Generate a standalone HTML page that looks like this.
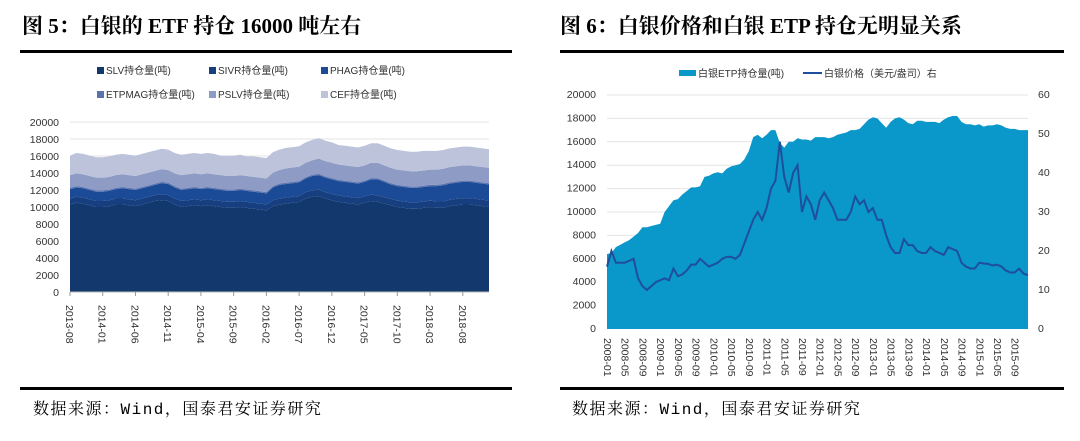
<!DOCTYPE html>
<html><head><meta charset="utf-8">
<style>
body{margin:0;background:#fff;width:1080px;height:441px;overflow:hidden;font-family:"Liberation Sans","Noto Sans CJK SC",sans-serif;}
svg{position:absolute;left:0;top:0;}
.tt{font-family:"Liberation Serif","Noto Serif CJK SC",serif;font-weight:bold;font-size:21px;fill:#000;}
.src{font-family:"Liberation Mono","Noto Serif CJK SC",serif;font-size:16px;letter-spacing:1.5px;fill:#000;}
.ax{font-size:10.5px;fill:#333;}
.lg{font-size:10px;fill:#333;}
</style></head><body>
<svg id="s" width="1080" height="441" xmlns="http://www.w3.org/2000/svg">
<text class="tt" x="22" y="33">图 5：白银的 ETF 持仓 16000 吨左右</text>
<rect x="20" y="50" width="492" height="3" fill="#000"/>
<rect x="20" y="387" width="492" height="3" fill="#000"/>
<text class="src" x="33" y="414">数据来源：Wind，国泰君安证券研究</text>
<text class="tt" x="560" y="33">图 6：白银价格和白银 ETP 持仓无明显关系</text>
<rect x="560" y="50" width="504" height="3" fill="#000"/>
<rect x="560" y="387" width="504" height="3" fill="#000"/>
<text class="src" x="572" y="414">数据来源：Wind，国泰君安证券研究</text>
<g id="left"></g>
<g id="right"></g>
</svg>
<script>
// ---- Left chart data (monthly, 2013-08 .. 2018-12) ----
const slv=[10300,10500,10400,10200,10000,
10000,10100,10300,10300,10200,10100,10300,10500,10700,10800,10700,10300,
10000,10100,10200,10100,10200,10100,10000,9900,9900,10000,9900,9800,
9700,9600,10100,10300,10400,10500,10600,11000,11200,11300,11000,10800,
10600,10500,10400,10300,10500,10700,10600,10400,10200,10000,9900,9800,
9800,9900,10000,9900,9900,10100,10200,10300,10300,10200,10100,10000];
const sivr=[700,700,700,700,700,700,700,700,700,700,700,700,700,700,700,700,700,700,700,700,700,700,700,700,700,700,700,700,700,700,700,700,700,700,700,700,750,750,750,750,750,750,750,750,750,750,750,750,750,750,750,750,750,750,750,750,750,750,750,750,750,750,750,750,750];
const phag=[1100,1100,1100,1100,1100,1100,1100,1100,1200,1200,1200,1200,1200,1200,1300,1300,1300,1300,1300,1300,1300,1300,1300,1300,1300,1300,1300,1300,1300,1300,1300,1500,1600,1600,1600,1600,1600,1700,1700,1700,1700,1700,1700,1700,1700,1700,1800,1900,1800,1700,1700,1700,1700,1700,1700,1700,1800,1900,1900,1900,1900,1900,1900,1900,1900];
const etpmag=[150,150,150,150,150,150,150,150,150,150,150,150,150,150,150,150,150,150,150,150,150,150,150,150,150,150,150,150,150,150,150,150,150,150,150,150,150,150,150,150,150,150,150,150,150,150,150,150,150,150,150,150,150,150,150,150,150,150,150,150,150,150,150,150,150];
const pslv=[1500,1500,1500,1500,1500,1500,1500,1500,1500,1500,1500,1500,1500,1500,1500,1500,1500,1600,1600,1600,1600,1600,1600,1600,1600,1600,1600,1600,1600,1600,1600,1600,1600,1700,1700,1700,1700,1700,1800,1800,1800,1800,1800,1800,1800,1800,1800,1800,1800,1800,1800,1800,1800,1800,1800,1800,1800,1800,1800,1800,1800,1800,1800,1800,1800];
const cef=[2300,2400,2400,2400,2400,2400,2400,2400,2400,2400,2400,2400,2400,2400,2400,2400,2400,2400,2400,2400,2400,2400,2400,2300,2400,2400,2400,2300,2400,2400,2400,2400,2400,2400,2400,2400,2400,2400,2400,2400,2400,2300,2300,2300,2300,2300,2300,2300,2300,2300,2300,2300,2300,2300,2300,2200,2200,2200,2200,2200,2200,2200,2200,2200,2200];
const leftSeries=["SLV持仓量(吨)","SIVR持仓量(吨)","PHAG持仓量(吨)","ETPMAG持仓量(吨)","PSLV持仓量(吨)","CEF持仓量(吨)"];
const leftTicksY=[0,2000,4000,6000,8000,10000,12000,14000,16000,18000,20000];
const leftTicksX=["2013-08","2014-01","2014-06","2014-11","2015-04","2015-09","2016-02","2016-07","2016-12","2017-05","2017-10","2018-03","2018-08"];

// ---- Right chart data (monthly, 2008-01 .. 2015-12) ----
const etp=[6400,6500,7000,7200,7400,7600,7900,8200,8700,8700,8800,8900,
9000,10000,10500,11000,11100,11500,11800,12100,12100,12200,13000,13100,
13300,13400,13300,13700,13900,14000,14100,14500,15200,16400,16600,16300,
16600,17000,17000,15900,15500,16000,16000,16300,16200,16200,16100,16400,
16400,16400,16300,16400,16600,16700,16800,17000,17000,17100,17500,17900,
18100,18000,17600,17200,17700,18000,18100,17900,17600,17500,17800,17800,
17700,17700,17700,17600,17900,18100,18200,18200,17700,17500,17500,17400,
17500,17300,17400,17400,17500,17400,17200,17100,17100,17000,17000,17000];
const price=[16,20,17,17,17,17.5,18,13,11,10,11,12,
12.5,13,12.5,15.5,13.5,14,15,16.5,16.5,18,17,16,
16.5,17,18,18.5,18.5,18,19,22,25,28,30,28,
31,36,38,48,39,35,40,42,30,34,32,28,
33,35,33,31,28,28,28,30,34,32,33,30,
31,28,28,24,21,19.5,19.5,23,21.5,21.5,20,19.5,
19.5,21,20,19.5,19,21,20.5,20,17,16,15.5,15.5,
17,16.8,16.7,16.3,16.5,16,15,14.5,14.5,15.5,14.2,13.8];
const rightTicksY=[0,2000,4000,6000,8000,10000,12000,14000,16000,18000,20000];
const rightTicksY2=[0,10,20,30,40,50,60];
const rightTicksX=["2008-01","2008-05","2008-09","2009-01","2009-05","2009-09","2010-01","2010-05","2010-09","2011-01","2011-05","2011-09","2012-01","2012-05","2012-09","2013-01","2013-05","2013-09","2014-01","2014-05","2014-09","2015-01","2015-05","2015-09"];

const NS="http://www.w3.org/2000/svg";
function mk(parent,tag,attrs){const e=document.createElementNS(NS,tag);for(const k in attrs)e.setAttribute(k,attrs[k]);parent.appendChild(e);return e;}

// ---- Left chart ----
(function(){
const g=document.getElementById('left');
const x0=70,x1=489,y0=292,y1=122;
const n=slv.length;
const X=i=>x0+(x1-x0)*i/(n-1);
const Y=v=>y0-(y0-y1)*v/20000;
leftTicksY.forEach(v=>{
  if(v>0){const l=mk(g,'line',{x1:x0,x2:x1,y1:Y(v),y2:Y(v),stroke:'#e4e4e4','stroke-width':1});
  
  }
  const t=mk(g,'text',{x:x0-11,y:Y(v)+4,'text-anchor':'end',class:'ax'});t.textContent=v;
  
  
});
const layers=[slv,sivr,phag,etpmag,pslv,cef];
const colors=['#13386e','#173f80','#1b4b97','#5a72ae','#8d9bc5','#bcc3da'];
const names=['area-slv','area-sivr','area-phag','area-etpmag','area-pslv','area-cef'];
let base=new Array(n).fill(0);
layers.forEach((arr,k)=>{
  const top=base.map((b,i)=>b+arr[i]);
  let d='M'+X(0)+','+Y(top[0]);
  for(let i=1;i<n;i++)d+='L'+X(i)+','+Y(top[i]);
  for(let i=n-1;i>=0;i--)d+='L'+X(i)+','+Y(base[i]);
  const p=mk(g,'path',{d:d+'Z',fill:colors[k]});
  
  
  base=top;
});
const ax=mk(g,'line',{x1:x0,x2:x1,y1:y0,y2:y0,stroke:'#bbb'});


leftTicksX.forEach((lab,j)=>{
  const x=X(j*5);
  const tk=mk(g,'line',{x1:x,x2:x,y1:y0,y2:y0+4,stroke:'#999'});
  
  
  const t=mk(g,'text',{x:x,y:y0+9,class:'ax',transform:`rotate(90 ${x-4} ${y0+9})`});t.textContent=lab;
  
  
});
const pos=[[97,74],[209,74],[321,74],[97,98],[209,98],[321,98]];
leftSeries.forEach((s,k)=>{
  const gg=mk(g,'g',{});
  
  
  mk(gg,'rect',{x:pos[k][0],y:pos[k][1]-7,width:7,height:7,fill:colors[k]});
  const t=mk(gg,'text',{x:pos[k][0]+9,y:pos[k][1],class:'lg'});t.textContent=s;
});
})();

// ---- Right chart ----
(function(){
const g=document.getElementById('right');
const x0=607,x1=1028,y0=329,y1=95;
const n=etp.length;
const X=i=>x0+(x1-x0)*i/(n-1);
const Y=v=>y0-(y0-y1)*v/20000;
const Y2=v=>y0-(y0-y1)*v/60;
rightTicksY.forEach(v=>{
  if(v>0){const l=mk(g,'line',{x1:x0,x2:x1,y1:Y(v),y2:Y(v),stroke:'#e4e4e4'});
  
  }
  const t=mk(g,'text',{x:x0-11,y:Y(v)+3,'text-anchor':'end',class:'ax','font-size':'9'});t.textContent=v;
  
  
});
rightTicksY2.forEach(v=>{
  const t=mk(g,'text',{x:1038,y:Y2(v)+3,class:'ax','font-size':'9'});t.textContent=v;
  
  
});
let d='M'+X(0)+','+Y(0);
for(let i=0;i<n;i++)d+='L'+X(i)+','+Y(etp[i]);
d+='L'+X(n-1)+','+Y(0)+'Z';
const a=mk(g,'path',{d:d,fill:'#0a97c9'});


let dl='';
for(let i=0;i<n;i++)dl+=(i?'L':'M')+X(i)+','+Y2(price[i]);
const ln=mk(g,'path',{d:dl,fill:'none',stroke:'#1f4e9c','stroke-width':2});


rightTicksX.forEach((lab,j)=>{
  const x=X(j*4);
  const t=mk(g,'text',{x:x,y:y0+6,class:'ax','font-size':'9',transform:`rotate(90 ${x-3} ${y0+6})`});t.textContent=lab;
  
  
});
const l1=mk(g,'g',{});


mk(l1,'rect',{x:679,y:70,width:17,height:6,fill:'#0a97c9'});
const t1=mk(l1,'text',{x:698,y:77,class:'lg','font-size':'9'});t1.textContent='白银ETP持仓量(吨)';
const l2=mk(g,'g',{});


mk(l2,'line',{x1:803,x2:822,y1:73,y2:73,stroke:'#1f4e9c','stroke-width':2});
const t2=mk(l2,'text',{x:824,y:77,class:'lg','font-size':'9'});t2.textContent='白银价格（美元/盎司）右';
})();
</script>
</body></html>
